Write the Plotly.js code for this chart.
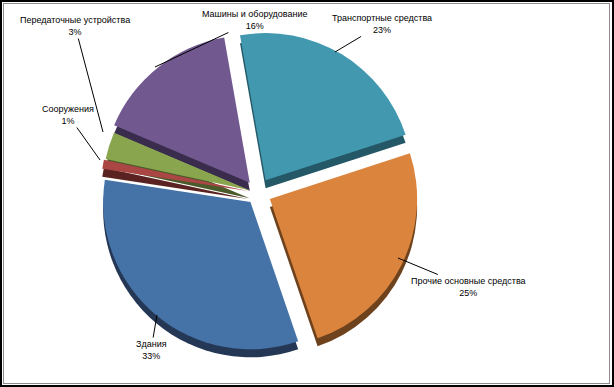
<!DOCTYPE html>
<html>
<head>
<meta charset="utf-8">
<script src="https://cdn.plot.ly/plotly-3.0.1.min.js"></script>
<style>
html,body{margin:0;padding:0;background:#fff;}
#wrap{position:relative;width:614px;height:387px;overflow:hidden;}
#chart{position:absolute;left:0;top:0;width:614px;height:387px;}
#b1{position:absolute;left:0;top:0;width:614px;height:387px;box-sizing:border-box;border:2px solid #000;pointer-events:none;}
#b2{position:absolute;left:3px;top:3px;width:607px;height:381px;box-sizing:border-box;border:1px solid #8c8c8c;pointer-events:none;}
</style>
</head>
<body>
<div id="wrap"><div id="chart"></div><div id="b1"></div><div id="b2"></div></div>
<script>
// Data (clockwise from 12 o'clock)
var categories = ["Транспортные средства", "Прочие основные средства", "Здания", "Сооружения", "Передаточные устройства", "Машины и оборудование"];
var shares = [23, 25, 33, 1, 3, 16];
var percentLabels = ["23%", "25%", "33%", "1%", "3%", "16%"];

var topColors  = ["#4198AF", "#DB843D", "#4572A7", "#AA4643", "#89A54E", "#71588F"];
var sideColors = ["#255866", "#6E421C", "#243754", "#5A2220", "#4A5A2A", "#3A2C4C"];
var pulls = [0.1, 0.09, 0.08, 0.07, 0.06, 0.09];

var W = 614, H = 387;
var cx = 258, cy = 193, half = 162, depth = 8;
function px(x){ return x / W; }
function py(y){ return 1 - y / H; }

var shadowPie = {
  type: 'pie', values: shares, labels: categories, sort: false, direction: 'clockwise', rotation: -10,
  pull: pulls, textinfo: 'none', hoverinfo: 'skip', showlegend: false,
  marker: {colors: sideColors, line: {width: 0}},
  domain: {x: [px(cx - half), px(cx + half)], y: [py(cy + depth + half), py(cy + depth - half)]}
};
var topPie = {
  type: 'pie', values: shares, labels: categories, sort: false, direction: 'clockwise', rotation: -10,
  pull: pulls, textinfo: 'none', hoverinfo: 'skip', showlegend: false,
  marker: {colors: topColors, line: {width: 0}},
  domain: {x: [px(cx - half), px(cx + half)], y: [py(cy + half), py(cy - half)]}
};

// label placement: [anchor on slice x,y], [text centre x,y] in pixels
var labelPlaces = [
  [[335, 52], [382, 24]],
  [[398, 258], [468, 287]],
  [[157, 315], [151, 350]],
  [[100, 160], [68, 115]],
  [[103, 132], [75, 26]],
  [[155, 67], [255, 20]]
];

var annotations = categories.map(function(c, i){
  var p = labelPlaces[i];
  return {
    xref: 'paper', yref: 'paper',
    x: px(p[0][0]), y: py(p[0][1]),
    ax: p[1][0] - p[0][0], ay: p[1][1] - p[0][1],
    text: c + '<br>' + percentLabels[i],
    showarrow: true, arrowhead: 0, arrowwidth: 1, arrowcolor: '#000',
    font: {family: 'Liberation Sans, Arial, sans-serif', size: 9, color: '#000'},
    align: 'center'
  };
});

var layout = {
  width: W, height: H,
  margin: {l: 0, r: 0, t: 0, b: 0},
  paper_bgcolor: '#fff',
  showlegend: false,
  annotations: annotations
};

Plotly.newPlot('chart', [shadowPie, topPie], layout, {staticPlot: true, displayModeBar: false});
</script>
</body>
</html>
